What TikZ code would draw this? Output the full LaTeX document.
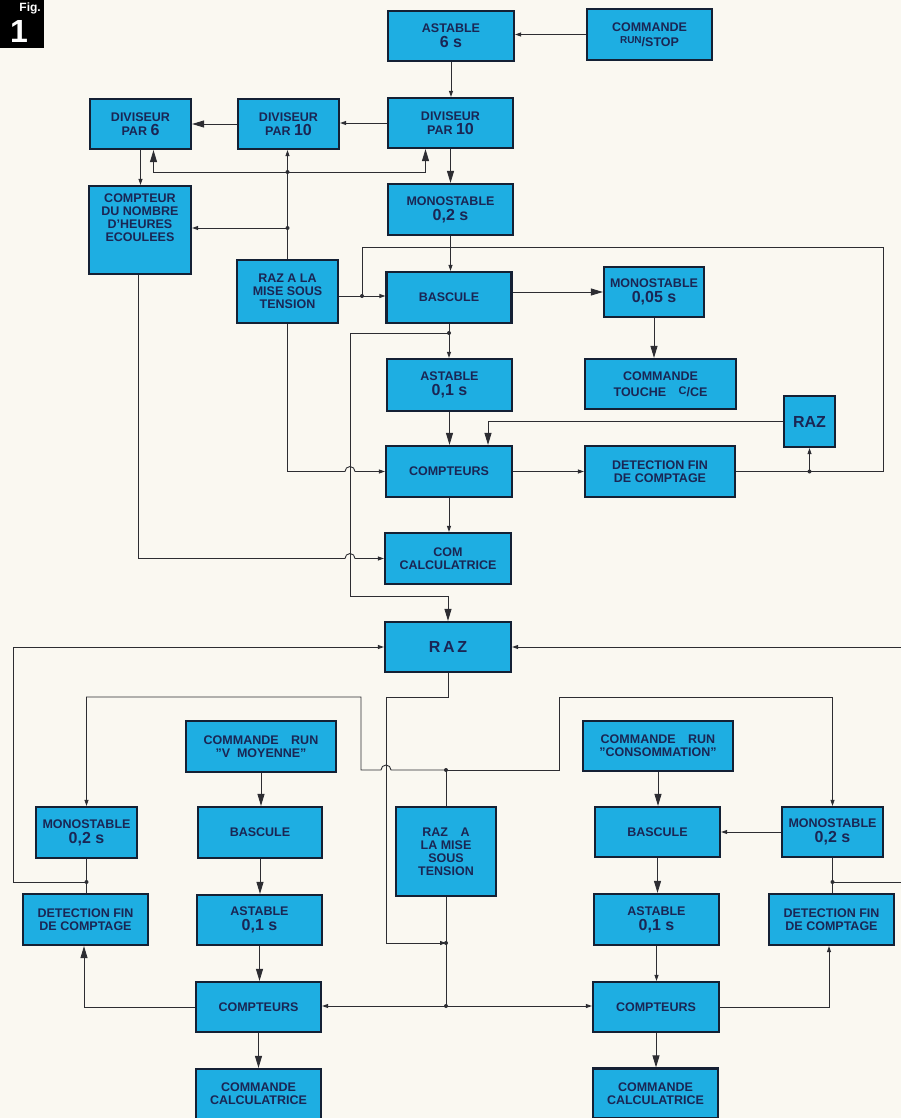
\documentclass[tikz,border=0pt]{standalone}
\usepackage{fontspec}
\setmainfont{Liberation Sans}
\usetikzlibrary{arrows.meta}
\definecolor{boxfill}{RGB}{30,174,226}
\definecolor{boxline}{RGB}{20,32,52}
\definecolor{boxtext}{RGB}{26,38,84}
\definecolor{wirecol}{RGB}{45,45,50}
\definecolor{paper}{RGB}{250,248,241}
\newcommand{\bignum}[1]{{\fontsize{16}{16}\selectfont #1}}
\tikzset{
  blk/.style={draw=boxline, fill=boxfill, line width=2.2pt, text=boxtext, align=center,
    inner sep=1pt, font=\fontsize{12.5}{13}\selectfont\bfseries},
  sz/.style 2 args={minimum width=#1, minimum height=#2},
  wire/.style={draw=wirecol, line width=0.9pt},
  barr/.style={-{Triangle[length=12pt,width=7pt]}},
  sarr/.style={-{Triangle[length=6pt,width=4pt]}},
}
\begin{document}
\begin{tikzpicture}[x=1pt,y=1pt,yscale=-1,xscale=1]
\useasboundingbox (0,0) rectangle (901,1118);
\fill[paper] (0,0) rectangle (901,1118);

% figure number
\fill[black] (0,0) rectangle (44,48);
\node[text=white, font=\fontsize{12}{12}\selectfont\bfseries, anchor=base east, inner sep=0pt] (figtxt) at (41,12) {Fig.};
\node[text=white, font=\fontsize{32}{32}\selectfont\bfseries, inner sep=0pt] (fignum) at (19,31) {1};

% upper block
\node[blk, sz={126}{50}] (ast6) at (451,36) {ASTABLE\\[2pt]\bignum{6 s}};
\node[blk, sz={125}{51}] (runstop) at (649.5,34.5) {COMMANDE\\[2pt]\raisebox{3pt}{\fontsize{10}{10}\selectfont RUN}/STOP};
\node[blk, sz={125}{50}] (div10a) at (450.5,123) {DIVISEUR\\[1pt]PAR \bignum{10}};
\node[blk, sz={101}{50}] (div10b) at (288.5,124) {DIVISEUR\\[1pt]PAR \bignum{10}};
\node[blk, sz={101}{50}] (div6) at (140.5,124) {DIVISEUR\\[1pt]PAR \bignum{6}};
\node[blk, sz={125}{51}] (mono02) at (450.5,209.5) {MONOSTABLE\\[2pt]\bignum{0,2 s}};
\node[blk, sz={102}{88}] (cptheures) at (140,230) {COMPTEUR\\DU NOMBRE\\D'HEURES\\ECOULEES\\[12pt]};
\node[blk, sz={101}{63}] (razmst) at (287.5,291.5) {RAZ A LA\\MISE SOUS\\TENSION};
\node[blk, sz={125}{51}] (bascule) at (449,297.5) {BASCULE};
\node[blk, sz={100}{50}] (mono005) at (654,292) {MONOSTABLE\\[2pt]\bignum{0,05 s}};
\node[blk, sz={151}{50}] (touche) at (660.5,384) {COMMANDE\\[3pt]TOUCHE\quad\raisebox{2pt}{\fontsize{11}{11}\selectfont C}/CE};
\node[blk, sz={51}{51}, font=\fontsize{16}{16}\selectfont\bfseries] (raz1) at (809.5,421.5) {RAZ};
\node[blk, sz={150}{51}] (detect1) at (660,471.5) {DETECTION FIN\\DE COMPTAGE};
\node[blk, sz={125}{52}] (ast01) at (449.5,385) {ASTABLE\\[2pt]\bignum{0,1 s}};
\node[blk, sz={126}{51}] (cpt1) at (449,471.5) {COMPTEURS};
\node[blk, sz={126}{51}] (comcalc) at (448,558.5) {COM\\CALCULATRICE};

% lower block
\node[blk, sz={126}{50}, font=\fontsize{16}{16}\selectfont\bfseries] (raz2) at (448,647) {R\,A\,Z};
\node[blk, sz={150}{51}] (runvm) at (261,746.5) {COMMANDE\quad RUN\\"V\ \ MOYENNE"};
\node[blk, sz={101}{51}] (mono02l) at (86.5,832.5) {MONOSTABLE\\[2pt]\bignum{0,2 s}};
\node[blk, sz={124}{51}] (basl) at (260,832.5) {BASCULE};
\node[blk, sz={100}{89}] (razmst2) at (446,851.5) {RAZ\quad A\\LA MISE\\SOUS\\TENSION};
\node[blk, sz={150}{50}] (runco) at (658,746) {COMMANDE\quad RUN\\"CONSOMMATION"};
\node[blk, sz={125}{50}] (basr) at (657.5,832) {BASCULE};
\node[blk, sz={101}{50}] (mono02r) at (832.5,832) {MONOSTABLE\\[2pt]\bignum{0,2 s}};
\node[blk, sz={125}{51}] (detl) at (85.5,919.5) {DETECTION FIN\\DE COMPTAGE};
\node[blk, sz={125}{50}] (astl) at (259.5,920) {ASTABLE\\[2pt]\bignum{0,1 s}};
\node[blk, sz={125}{51}] (detr) at (831.5,919.5) {DETECTION FIN\\DE COMPTAGE};
\node[blk, sz={125}{51}] (astr) at (656.5,919.5) {ASTABLE\\[2pt]\bignum{0,1 s}};
\node[blk, sz={125}{50}] (cptl) at (258.5,1007) {COMPTEURS};
\node[blk, sz={126}{50}] (cptr) at (656,1007) {COMPTEURS};
\node[blk, sz={125}{50}] (calcl) at (258.5,1094) {COMMANDE\\CALCULATRICE};
\node[blk, sz={125}{50}] (calcr) at (655.5,1093.5) {COMMANDE\\CALCULATRICE};

% junctions
\coordinate (ja) at (287.5,228);
\coordinate (jb) at (287.5,172);
\coordinate (jc) at (362,296);
\coordinate (jd) at (449,333);
\coordinate (jj) at (809.5,471.5);
\coordinate (je) at (86.5,882);
\coordinate (jf) at (832.5,882);
\coordinate (jg) at (446,770);
\coordinate (jh) at (446,943);
\coordinate (ji) at (446,1006);
\coordinate (edgeA) at (901,647);
\coordinate (edgeB) at (901,882);

% upper chain
\draw[wire,sarr] (runstop.west) -- (runstop.west -| ast6.east);
\draw[wire,sarr] (ast6.south) -- (ast6.south |- div10a.north);
\draw[wire,sarr] (div10a.west) -- (div10a.west -| div10b.east);
\draw[wire,barr] (div10b.west) -- (div10b.west -| div6.east);
\draw[wire,barr] (div10a.south) -- (div10a.south |- mono02.north);
\draw[wire,sarr] (div6.south) -- (div6.south |- cptheures.north);

% power-on reset, upper
\draw[wire,sarr] (razmst.north) -- (razmst.north |- div10b.south);
\draw[wire,sarr] (ja) -- (ja -| cptheures.east);
\draw[wire,barr] (jb) -| ([xshift=13pt]div6.south);
\draw[wire,barr] (jb) -| ([xshift=-25pt]div10a.south);

% bascule and end of count
\draw[wire,sarr] (razmst.east |- jc) -- (jc -| bascule.west);
\draw[wire] (detect1.east) -| (883,247) -| (jc);
\draw[wire,sarr] (mono02.south) -- (mono02.south |- bascule.north);
\draw[wire,barr] (mono005.west -| bascule.east) -- (mono005.west);
\draw[wire,barr] (mono005.south) -- (mono005.south |- touche.north);
\draw[wire,sarr] (bascule.south) -- (bascule.south |- ast01.north);
\draw[wire,barr] (jd) -| (350,596) -| (raz2.north);
\draw[wire,barr] (ast01.south) -- (ast01.south |- cpt1.north);
\draw[wire,barr] (raz1.west) -| ([xshift=39pt]cpt1.north);
\draw[wire,sarr] (cpt1.east) -- (cpt1.east -| detect1.west);
\draw[wire,sarr] (jj) -- (raz1.south);
\draw[wire,sarr] (razmst.south) |- (345,471.5) arc[start angle=180,end angle=360,radius=5] -- (cpt1.west);
\draw[wire,sarr] (cpt1.south) -- (cpt1.south |- comcalc.north);
\draw[wire,sarr] ([xshift=-1.5pt]cptheures.south) |- (345,558.5) arc[start angle=180,end angle=360,radius=5] -- (comcalc.west);

% general reset, lower
\draw[wire,sarr] (je) -| (13,647) -- (raz2.west);
\draw[wire,sarr] (edgeA) -- (raz2.east);
\draw[wire] (mono02l.south) -- (mono02l.south |- detl.north);
\draw[wire] (mono02r.south) -- (mono02r.south |- detr.north);
\draw[wire] (jf) -- (edgeB);
\draw[wire] (razmst2.north) -- (jg);
\draw[wire,sarr] (jg) -| (559,697) -| (mono02r.north);
\draw[wire,sarr] (jg) -- (391,770) arc[start angle=0,end angle=-180,radius=5] -- (361,770) -- (361,697) -| (mono02l.north);
\draw[wire,sarr] (raz2.south) -- (448,697) -| (386,943) -- (jh);
\draw[wire] (razmst2.south) -- (ji);
\draw[wire,sarr] (ji) -- (ji -| cptl.east);
\draw[wire,sarr] (ji) -- (ji -| cptr.west);

% "V moyenne" channel
\draw[wire,barr] (runvm.south) -- (runvm.south |- basl.north);
\draw[wire,barr] (basl.south) -- (basl.south |- astl.north);
\draw[wire,barr] (astl.south) -- (astl.south |- cptl.north);
\draw[wire,barr] (cptl.south) -- (cptl.south |- calcl.north);
\draw[wire,barr] (cptl.west) -| ([xshift=-1.5pt]detl.south);

% "consommation" channel
\draw[wire,barr] (runco.south) -- (runco.south |- basr.north);
\draw[wire,barr] (basr.south) -- (basr.south |- astr.north);
\draw[wire,sarr] (astr.south) -- (astr.south |- cptr.north);
\draw[wire,barr] (cptr.south) -- (cptr.south |- calcr.north);
\draw[wire,sarr] (mono02r.west) -- (mono02r.west -| basr.east);
\draw[wire,sarr] (cptr.east) -| ([xshift=-2.5pt]detr.south);

\foreach \p in {ja,jb,jc,jd,jj,je,jf,jg,jh,ji}
  \fill[wirecol] (\p) circle[radius=2];

\end{tikzpicture}
\end{document}
